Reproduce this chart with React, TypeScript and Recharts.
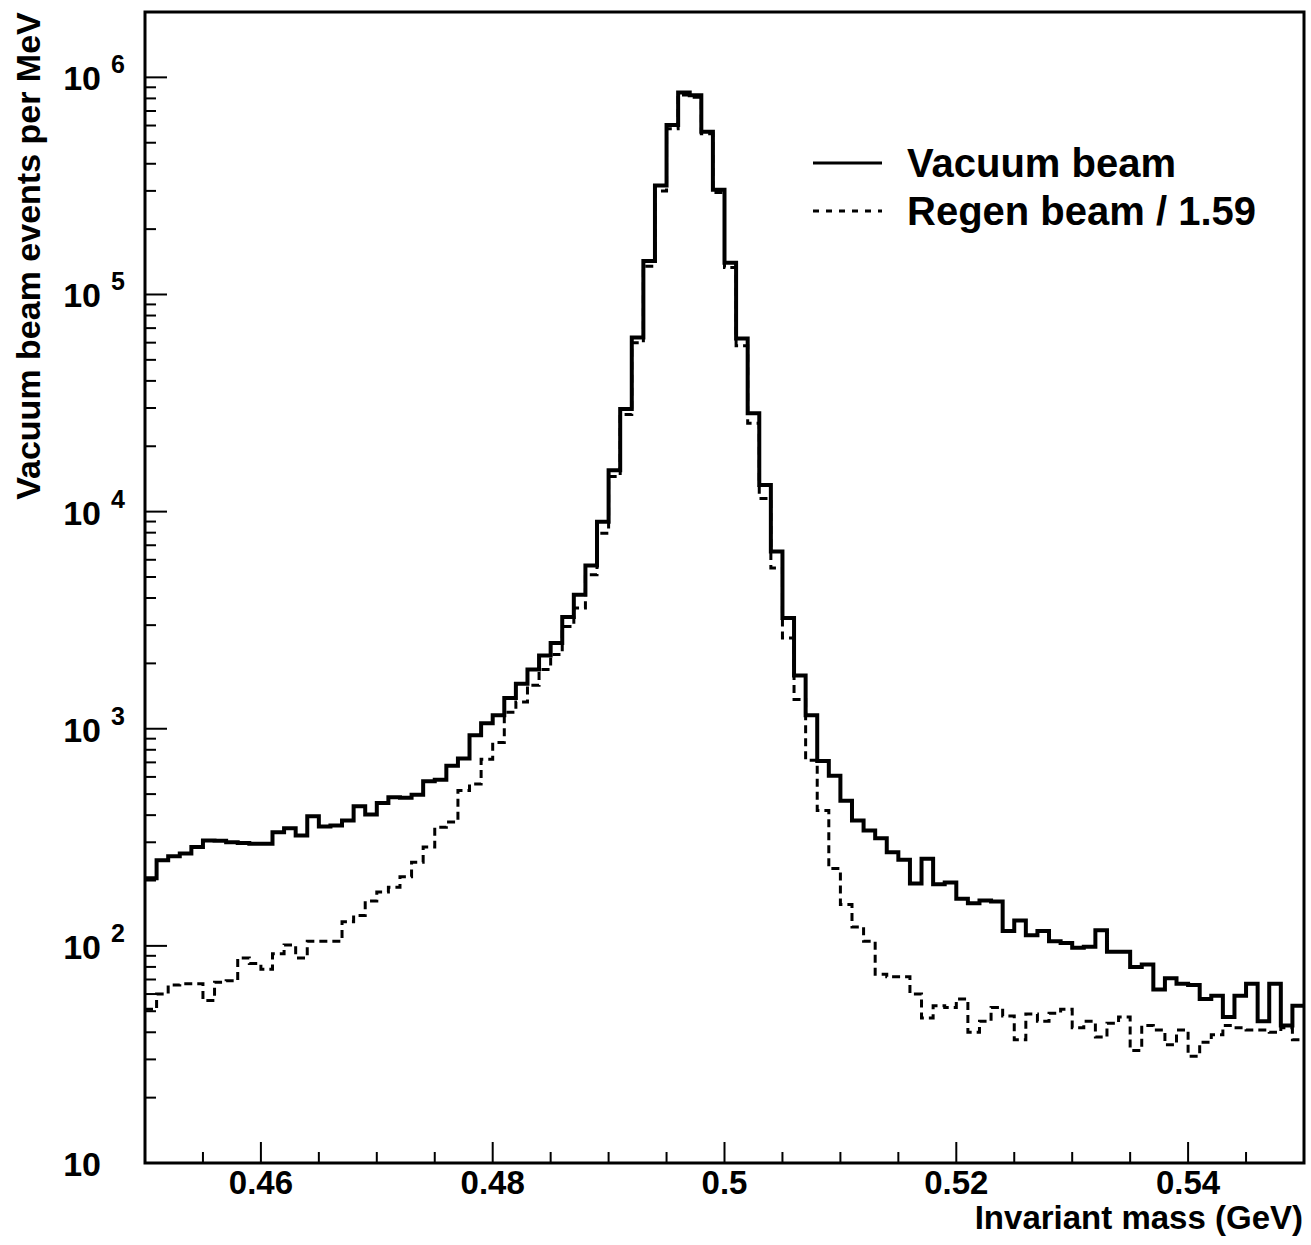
import React from 'react';
import { ComposedChart, Line, XAxis, YAxis, ReferenceArea, Label } from 'recharts';

// histogram binning: 1 MeV bins from 0.45 to 0.55 GeV
const BIN_START = 0.45;
const BIN_WIDTH = 0.001;

// vacuum beam, events per MeV (one value per bin)
const VACUUM = [
    205, 248, 259, 266, 285, 306, 305, 300, 298, 295,
    295, 334, 348, 322, 395, 355, 358, 378, 440, 403,
    455, 484, 481, 496, 573, 582, 675, 730, 933, 1059,
    1153, 1384, 1611, 1874, 2174, 2485, 3271, 4140, 5640, 8980,
    15500, 29700, 63400, 142500, 318000, 604000, 851000, 828000, 562000, 304000,
    140000, 62700, 28400, 13250, 6550, 3240, 1759, 1153, 711, 607,
    466, 378, 340, 313, 270, 249, 194, 252, 192, 196,
    165, 157, 162, 160, 117, 131, 112, 117, 105, 103,
    98, 99, 118, 94, 94, 80, 82, 63, 71, 67,
    66, 57, 59, 47, 59, 67, 45, 67, 43, 53,
];

// regen beam / 1.59
const REGEN = [
    51, 60, 66, 67, 67, 56, 68, 69, 88, 83,
    78, 92, 101, 88, 105, 105, 105, 129, 138, 161,
    177, 186, 208, 243, 285, 352, 372, 520, 556, 724,
    865, 1190, 1328, 1585, 1875, 2200, 2960, 3600, 5120, 7950,
    14500, 28000, 60000, 135000, 300000, 580000, 830000, 810000, 550000, 295000,
    133000, 58000, 25500, 11500, 5500, 2620, 1365, 716, 420, 227,
    155, 122, 105, 74, 72, 72, 60, 46.5, 53, 52,
    57, 40, 45, 52, 47.5, 37, 48.5, 45, 49, 51,
    42, 45, 38, 44, 47, 33, 43, 41, 35, 41,
    31, 36, 39, 43, 42, 41, 41, 40, 42, 37,
];

const X_MAJOR = [0.46, 0.48, 0.5, 0.52, 0.54];
const X_TICKS = [
    0.455, 0.46, 0.465, 0.47, 0.475, 0.48, 0.485, 0.49, 0.495, 0.5,
    0.505, 0.51, 0.515, 0.52, 0.525, 0.53, 0.535, 0.54, 0.545, 0.55,
];
const Y_DECADES = [10, 100, 1000, 10000, 100000, 1000000];
const Y_STEPS = [1, 2, 3, 4, 5, 6, 7, 8, 9];
const Y_TICKS = Y_DECADES.flatMap(d => Y_STEPS.map(s => s * d)).filter(v => v <= 2e6);

const FONT = "'Liberation Sans', Arial, Helvetica, sans-serif";

const data = VACUUM.map((v, i) => ({
    m: +(BIN_START + i * BIN_WIDTH).toFixed(3),
    vac: v,
    reg: REGEN[i],
}));
// closing edge of the last bin
data.push({ m: 0.55, vac: VACUUM[VACUUM.length - 1], reg: REGEN[REGEN.length - 1] });

const XTick = (props: any) => {
    const { x, y, payload } = props;
    const major = X_MAJOR.some(t => Math.abs(t - payload.value) < 1e-6);
    return (
        <g>
            <line x1={x} x2={x} y1={y} y2={y - (major ? 21 : 11)} stroke="#000" strokeWidth={2} />
            {major && (
                <text x={x} y={y + 31} textAnchor="middle" fontFamily={FONT} fontWeight="bold" fontSize={33} fill="#000">
                    {String(payload.value)}
                </text>
            )}
        </g>
    );
};

const YTick = (props: any) => {
    const { x, y, payload } = props;
    const exp = Math.log10(payload.value);
    const major = Math.abs(exp - Math.round(exp)) < 1e-6;
    const e = Math.round(exp);
    return (
        <g>
            <line x1={x} x2={x + (major ? 22 : 11)} y1={y} y2={y} stroke="#000" strokeWidth={2} />
            {major && (
                <text x={x - 44} y={y + 13} textAnchor="end" fontFamily={FONT} fontWeight="bold" fontSize={34} fill="#000">
                    10
                </text>
            )}
            {major && e > 1 && (
                <text x={x - 34} y={y - 4} fontFamily={FONT} fontWeight="bold" fontSize={25} fill="#000">
                    {e}
                </text>
            )}
        </g>
    );
};

const XTitle = (props: any) => {
    const vb = props.viewBox;
    return (
        <text x={vb.x + vb.width - 1} y={vb.y + 66} textAnchor="end" fontFamily={FONT} fontWeight="bold" fontSize={33} fill="#000">
            Invariant mass (GeV)
        </text>
    );
};

const YTitle = (props: any) => {
    const vb = props.viewBox;
    const cx = vb.x + 28;
    const cy = 256;
    return (
        <text
            x={cx}
            y={cy}
            transform={`rotate(-90 ${cx} ${cy})`}
            textAnchor="middle"
            dominantBaseline="central"
            fontFamily={FONT}
            fontWeight="bold"
            fontSize={34}
            fill="#000"
        >
            Vacuum beam events per MeV
        </text>
    );
};

const LEGEND = [
    { name: 'Vacuum beam', dash: undefined, width: 3 },
    { name: 'Regen beam / 1.59', dash: '6 7', width: 3 },
];

export default function App() {
    return (
        <div style={{ position: 'absolute', left: 0, top: 0, width: 1311, height: 1245, background: '#fff' }}>
            <ComposedChart width={1311} height={1245} data={data} margin={{ top: 12, right: 7, bottom: 0, left: 0 }}>
                <XAxis
                    dataKey="m"
                    type="number"
                    domain={[0.45, 0.55]}
                    ticks={X_TICKS}
                    interval={0}
                    tick={(p: any) => <XTick {...p} />}
                    tickLine={false}
                    axisLine={false}
                    tickSize={0}
                    tickMargin={0}
                    height={82}
                    allowDataOverflow
                >
                    <Label content={XTitle} />
                </XAxis>
                <YAxis
                    type="number"
                    scale="log"
                    domain={[10, 2e6]}
                    ticks={Y_TICKS}
                    interval={0}
                    tick={(p: any) => <YTick {...p} />}
                    tickLine={false}
                    axisLine={false}
                    tickSize={0}
                    tickMargin={0}
                    width={145}
                    allowDataOverflow
                >
                    <Label content={YTitle} />
                </YAxis>
                <ReferenceArea
                    x1={0.45}
                    x2={0.55}
                    y1={10}
                    y2={2e6}
                    fill="none"
                    fillOpacity={0}
                    stroke="#000"
                    strokeWidth={3}
                    ifOverflow="visible"
                />
                <Line
                    dataKey="reg"
                    type="stepAfter"
                    stroke="#000"
                    strokeWidth={3}
                    strokeDasharray="8 5"
                    dot={false}
                    activeDot={false}
                    isAnimationActive={false}
                />
                <Line
                    dataKey="vac"
                    type="stepAfter"
                    stroke="#000"
                    strokeWidth={4}
                    dot={false}
                    activeDot={false}
                    isAnimationActive={false}
                />
            </ComposedChart>
            <div style={{ position: 'absolute', left: 813, top: 139, fontFamily: FONT, fontWeight: 'bold', fontSize: 40 }}>
                {LEGEND.map(item => (
                    <div key={item.name} style={{ display: 'flex', alignItems: 'center', height: 48, lineHeight: '48px' }}>
                        <svg width={69} height={48}>
                            <line x1={0} x2={69} y1={24} y2={24} stroke="#000" strokeWidth={item.width} strokeDasharray={item.dash} />
                        </svg>
                        <span style={{ marginLeft: 25, whiteSpace: 'nowrap' }}>{item.name}</span>
                    </div>
                ))}
            </div>
        </div>
    );
}
